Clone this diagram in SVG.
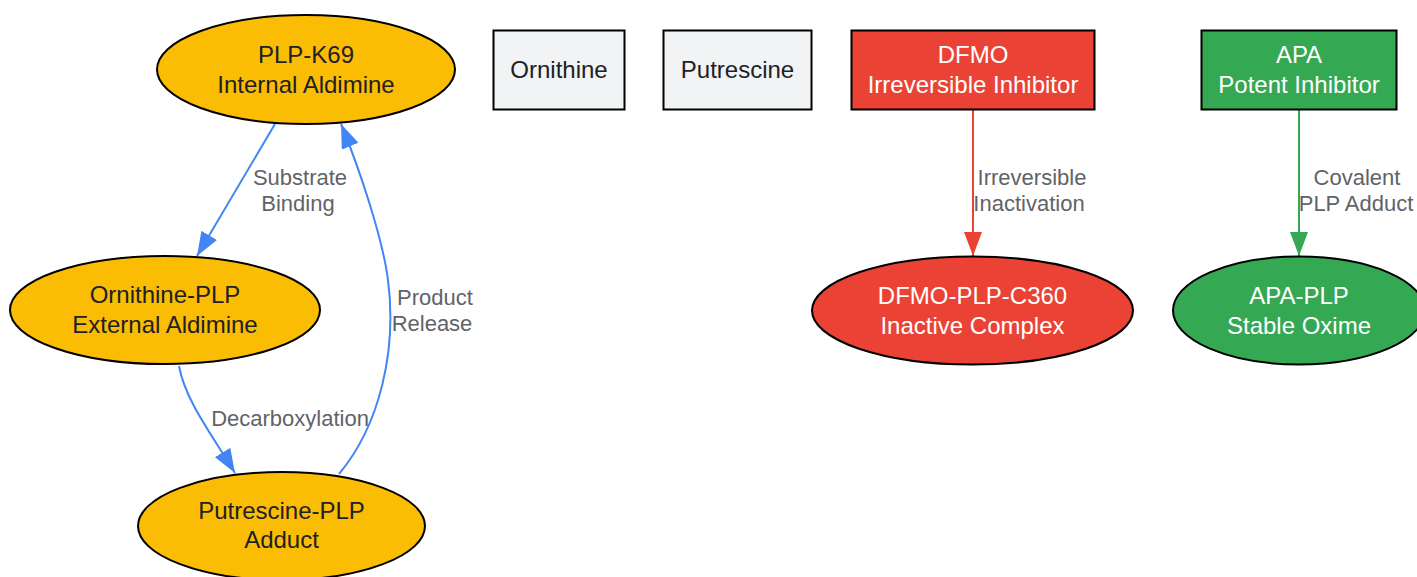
<svg xmlns="http://www.w3.org/2000/svg" width="1417" height="577" viewBox="0 0 1417 577">
<style>
.n{stroke:#000;stroke-width:2}
.y{fill:#FBBC04}.g{fill:#F1F3F4}.r{fill:#EA4335}.gr{fill:#34A853}
text{font-family:"Liberation Sans",Arial,sans-serif;text-anchor:middle}
.t{font-size:24px;fill:#202124}
.w{font-size:24px;fill:#fff}
.l{font-size:22px;fill:#5f6368}
.e{fill:none;stroke-width:2}
</style>
<defs>
<marker id="ab" markerUnits="userSpaceOnUse" viewBox="0 0 24 18" refX="24" refY="9" markerWidth="24" markerHeight="18" orient="auto"><path d="M0,0L24,9L0,18z" fill="#4285F4"/></marker>
<marker id="ar" markerUnits="userSpaceOnUse" viewBox="0 0 24 18" refX="24" refY="9" markerWidth="24" markerHeight="18" orient="auto"><path d="M0,0L24,9L0,18z" fill="#EA4335"/></marker>
<marker id="ag" markerUnits="userSpaceOnUse" viewBox="0 0 24 18" refX="24" refY="9" markerWidth="24" markerHeight="18" orient="auto"><path d="M0,0L24,9L0,18z" fill="#34A853"/></marker>
</defs>
<g id="connectors">
<path class="e" stroke="#4285F4" d="M275,124L197,256" marker-end="url(#ab)"/>
<path class="e" stroke="#4285F4" d="M179,366C185,400 212,435 235,473" marker-end="url(#ab)"/>
<path class="e" stroke="#4285F4" d="M339,474C380,425 397,350 388,280C383,240 360,170 341,124" marker-end="url(#ab)"/>
<path class="e" stroke="#EA4335" d="M973,110L973,256" marker-end="url(#ar)"/>
<path class="e" stroke="#34A853" d="M1299,110L1299,256" marker-end="url(#ag)"/>
<text class="l" x="300" y="185">Substrate</text>
<text class="l" x="298" y="211">Binding</text>
<text class="l" x="290" y="426">Decarboxylation</text>
<text class="l" x="435" y="305">Product</text>
<text class="l" x="432" y="331">Release</text>
<text class="l" x="1032" y="185">Irreversible</text>
<text class="l" x="1029" y="211">Inactivation</text>
<text class="l" x="1357" y="185">Covalent</text>
<text class="l" x="1356" y="211">PLP Adduct</text>
</g>
<g id="plp-k69"><ellipse class="n y" cx="306" cy="69.5" rx="149" ry="54.5"/><text class="t" x="306" y="63">PLP-K69</text><text class="t" x="306" y="93">Internal Aldimine</text></g>
<g id="ornithine-plp"><ellipse class="n y" cx="165" cy="310" rx="155" ry="54"/><text class="t" x="165" y="303">Ornithine-PLP</text><text class="t" x="165" y="333">External Aldimine</text></g>
<g id="putrescine-plp"><ellipse class="n y" cx="281.5" cy="526" rx="143.5" ry="54"/><text class="t" x="281.5" y="519">Putrescine-PLP</text><text class="t" x="281.5" y="548">Adduct</text></g>
<g id="ornithine"><rect class="n g" x="493.5" y="30.5" width="131" height="79"/><text class="t" x="559" y="78">Ornithine</text></g>
<g id="putrescine"><rect class="n g" x="663.5" y="30.5" width="148" height="79"/><text class="t" x="737.5" y="78">Putrescine</text></g>
<g id="dfmo"><rect class="n r" x="851.5" y="30.5" width="243" height="79"/><text class="w" x="973" y="63">DFMO</text><text class="w" x="973" y="93">Irreversible Inhibitor</text></g>
<g id="apa"><rect class="n gr" x="1201.5" y="30.5" width="195" height="79"/><text class="w" x="1299" y="63">APA</text><text class="w" x="1299" y="93">Potent Inhibitor</text></g>
<g id="dfmo-plp"><ellipse class="n r" cx="972.5" cy="310.5" rx="160.5" ry="54"/><text class="w" x="972.5" y="304">DFMO-PLP-C360</text><text class="w" x="972.5" y="334">Inactive Complex</text></g>
<g id="apa-plp"><ellipse class="n gr" cx="1299" cy="310.5" rx="126" ry="54"/><text class="w" x="1299" y="304">APA-PLP</text><text class="w" x="1299" y="334">Stable Oxime</text></g>
</svg>
